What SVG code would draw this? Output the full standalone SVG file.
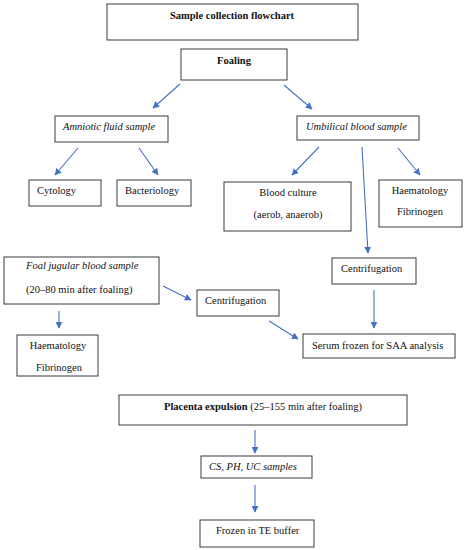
<svg xmlns="http://www.w3.org/2000/svg" width="464" height="550" viewBox="0 0 464 550">
<style>
rect{fill:#fff;stroke:#3a3a3a;stroke-width:1}
text{font-family:"Liberation Serif","Times New Roman",serif;font-size:10.5px;fill:#111}
.b{font-weight:bold}
.i{font-style:italic}
.m{text-anchor:middle}
.c line{stroke:#4472C4;stroke-width:1.1;marker-end:url(#ah)}
</style>
<defs>
<marker id="ah" viewBox="0 0 10 10" refX="9" refY="5" markerWidth="7" markerHeight="7" markerUnits="userSpaceOnUse" orient="auto">
<path d="M0,0 L10,5 L0,10 z" fill="#4472C4"/>
</marker>
</defs>
<rect x="0" y="0" width="464" height="550" style="stroke:none"/>
<g id="title"><rect x="107" y="4" width="251" height="36"/><text class="b m" x="232" y="19">Sample collection flowchart</text></g>
<g id="foaling"><rect x="181" y="49" width="106" height="31"/><text class="b m" x="234" y="64">Foaling</text></g>
<g id="amniotic"><rect x="55" y="116" width="113" height="26"/><text class="i" x="63" y="130">Amniotic fluid sample</text></g>
<g id="umbilical"><rect x="297" y="116" width="122" height="24"/><text class="i" x="306" y="130">Umbilical blood sample</text></g>
<g id="cytology"><rect x="29" y="180" width="72" height="26"/><text x="37" y="194">Cytology</text></g>
<g id="bacteriology"><rect x="117" y="180" width="74" height="26"/><text x="125" y="194">Bacteriology</text></g>
<g id="bloodculture"><rect x="224" y="182" width="127" height="49"/><text class="m" x="288" y="196">Blood culture</text><text class="m" x="288" y="218">(aerob, anaerob)</text></g>
<g id="haem1"><rect x="379" y="180" width="83" height="47"/><text class="m" x="420" y="194">Haematology</text><text class="m" x="420" y="215">Fibrinogen</text></g>
<g id="jugular"><rect x="4" y="257" width="155" height="47"/><text class="i" x="26" y="269">Foal jugular blood sample</text><text x="26" y="293">(20–80 min after foaling)</text></g>
<g id="centrif1"><rect x="332" y="258" width="84" height="26"/><text x="341" y="272">Centrifugation</text></g>
<g id="centrif2"><rect x="197" y="290" width="82" height="26"/><text x="205" y="304">Centrifugation</text></g>
<g id="serum"><rect x="303" y="334" width="152" height="24"/><text x="312" y="349">Serum frozen for SAA analysis</text></g>
<g id="haem2"><rect x="17" y="335" width="81" height="41"/><text class="m" x="58" y="349">Haematology</text><text class="m" x="59" y="371">Fibrinogen</text></g>
<g id="placenta"><rect x="119" y="395" width="288" height="30"/><text x="164" y="410"><tspan class="b">Placenta expulsion</tspan> (25–155 min after foaling)</text></g>
<g id="cs"><rect x="201" y="456" width="111" height="22"/><text class="i" x="209" y="470">CS, PH, UC samples</text></g>
<g id="frozen"><rect x="200" y="520" width="114" height="27"/><text x="216" y="534">Frozen in TE buffer</text></g>
<g id="connectors" class="c">
<line x1="180" y1="84" x2="153" y2="108"/>
<line x1="284" y1="85" x2="312" y2="109"/>
<line x1="78" y1="148" x2="55" y2="175"/>
<line x1="139" y1="148" x2="158" y2="175"/>
<line x1="319" y1="147" x2="292" y2="175"/>
<line x1="362" y1="147" x2="368" y2="253"/>
<line x1="398" y1="148" x2="420" y2="175"/>
<line x1="163" y1="286" x2="191" y2="300"/>
<line x1="269" y1="321" x2="298" y2="339"/>
<line x1="374" y1="290" x2="374" y2="328"/>
<line x1="59" y1="311" x2="59" y2="328"/>
<line x1="255" y1="430" x2="255" y2="453"/>
<line x1="255" y1="485" x2="255" y2="512"/>
</g>
</svg>
